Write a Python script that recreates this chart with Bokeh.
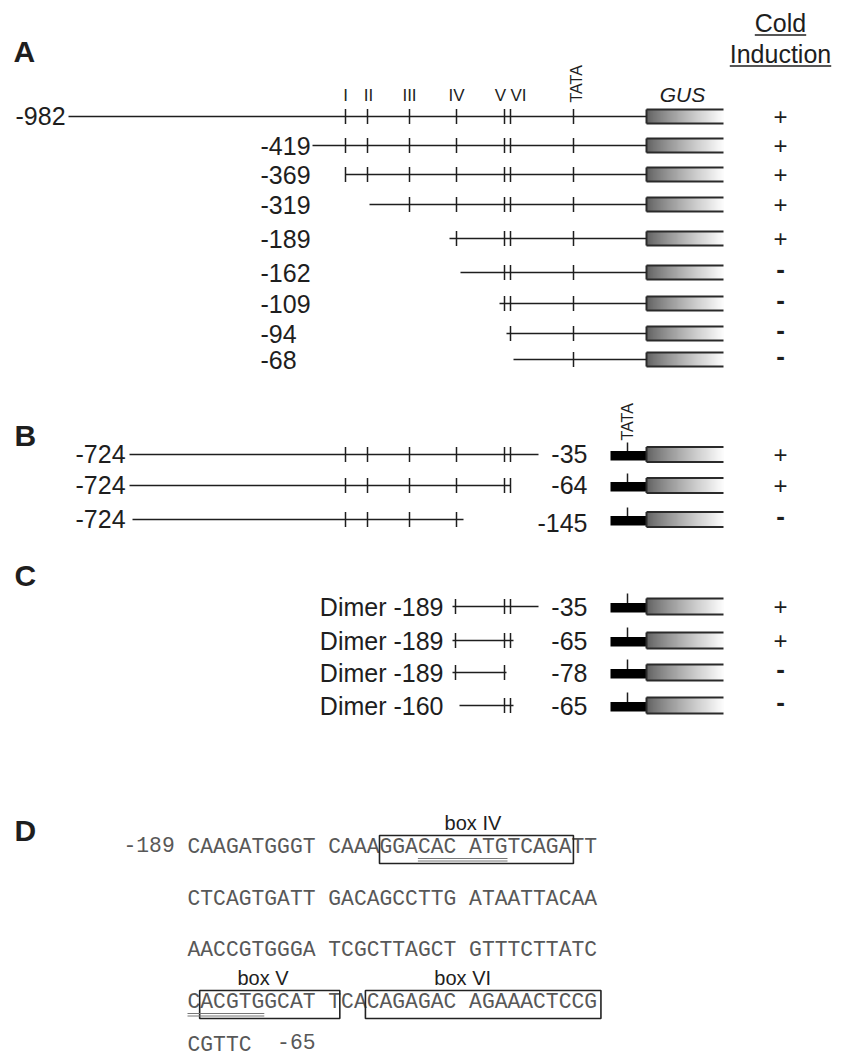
import numpy as np
from bokeh.plotting import figure
from bokeh.models import Range1d
from bokeh.core.properties import value
from bokeh.embed import file_html
from bokeh.resources import INLINE

# ---------------- data ----------------
# schematic promoter map (diagram units along the construct)
box_names = ["I", "II", "III", "IV", "V", "VI"]
box_x = [345, 367, 409, 456, 504, 510]
box_label_x = [345, 368, 409, 456, 500, 518]
tata_x = 573
gus_x = [646, 723]
min_tata_x = [610, 627]          # minimal promoter block start, TATA tick

# Panel A: 5' deletions
a_labels = ["-982", "-419", "-369", "-319", "-189", "-162", "-109", "-94", "-68"]
a_start = [68, 312, 345, 369, 449, 460, 499, 506, 513]
a_row_y = [116, 145, 174, 204, 238, 272, 303, 333, 359]
a_cold = ["+", "+", "+", "+", "+", "-", "-", "-", "-"]

# Panel B: fusions to minimal promoter
b_left = ["-724", "-724", "-724"]
b_right = ["-35", "-64", "-145"]
b_start = [129, 129, 132]
b_end = [538, 510, 463]
b_row_y = [454, 485, 519]
b_cold = ["+", "+", "-"]

# Panel C: dimers
c_left = ["Dimer -189", "Dimer -189", "Dimer -189", "Dimer -160"]
c_right = ["-35", "-65", "-78", "-65"]
c_start = [452, 452, 452, 459]
c_end = [538, 513, 506, 513]
c_ticks = [[455, 504, 510], [455, 504, 510], [455, 504], [504, 510]]
c_row_y = [606, 640, 672, 705]
c_cold = ["+", "+", "-", "-"]

# Panel D: sequence
seq_prefix = "-189"
seq_rows = ["CAAGATGGGT CAAAGGACAC ATGTCAGATT",
            "CTCAGTGATT GACAGCCTTG ATAATTACAA",
            "AACCGTGGGA TCGCTTAGCT GTTTCTTATC",
            "CACGTGGCAT TCACAGAGAC AGAAACTCCG",
            "CGTTC"]
seq_suffix = "-65"
seq_suffix_char = 7
seq_base_y = [855, 907, 958, 1010, 1053]
# (label, row, first char, last char edge, label char position)
seq_boxes = [("box IV", 0, 15.0, 30.15, 22.3),
             ("box V", 3, 0.95, 11.9, 5.9),
             ("box VI", 3, 13.9, 32.3, 21.5)]
seq_underlines = [(0, 18, 25), (3, 0, 6)]

# ---------------- figure ----------------
W, H = 845, 1060
p = figure(width=W, height=H, x_range=Range1d(0, W), y_range=Range1d(H, 0),
           x_axis_type=None, y_axis_type=None, output_backend="svg",
           toolbar_location=None, min_border=0)
p.grid.visible = False
p.outline_line_color = None
p.background_fill_color = "white"
p.border_fill_color = "white"

SANS = value("Liberation Sans")
MONO = value("Liberation Mono")
INK = "#1e1e1e"
BASE_FIX = 0.39   # svg text baseline correction (em)


def T(xs, ys, texts, size, align="left", style="normal", color=INK, font=SANS, angle=0.0):
    xs, ys = list(xs), list(ys)
    if angle:
        xs = [x - BASE_FIX * size for x in xs]
    else:
        ys = [y - BASE_FIX * size for y in ys]
    p.text(x=xs, y=ys, text=list(texts), text_font=font,
           text_font_size=f"{size:.2f}px", text_align=align, text_baseline="alphabetic",
           text_color=color, text_font_style=style, angle=angle)


seg = {"x0": [], "y0": [], "x1": [], "y1": []}


def S(x0, y0, x1, y1):
    seg["x0"].append(x0); seg["y0"].append(y0); seg["x1"].append(x1); seg["y1"].append(y1)


box_seg = {"x0": [], "y0": [], "x1": [], "y1": []}
grad = {"l": [], "r": [], "t": [], "b": [], "c": []}
NG = 77
edges = np.linspace(gus_x[0], gus_x[1], NG + 1)
shade = [int(round(88 + (252 - 88) * (i / (NG - 1)) ** 0.85)) for i in range(NG)]
shade_hex = ["#%02x%02x%02x" % (s, s, s) for s in shade]


def gus(y, h):
    top, bot = y - h / 2, y + h / 2
    for i in range(NG):
        grad["l"].append(edges[i]); grad["r"].append(edges[i + 1] + 0.4)
        grad["t"].append(top); grad["b"].append(bot); grad["c"].append(shade_hex[i])
    for (a, b, c, d) in [(gus_x[0], top, gus_x[1], top), (gus_x[0], bot, gus_x[1], bot),
                         (gus_x[0], top, gus_x[0], bot)]:
        box_seg["x0"].append(a); box_seg["y0"].append(b); box_seg["x1"].append(c); box_seg["y1"].append(d)


TK = 7.5
# ---- Panel A ----
T([13], [63], ["A"], 30, style="bold")
T([780], [32], ["Cold"], 25, align="center")
T([780], [63], ["Induction"], 25, align="center")
aw = {"C": .722, "o": .556, "l": .222, "d": .556, "I": .278, "n": .556, "u": .556,
      "c": .5, "t": .278, "i": .222}
for word, by in [("Cold", 32), ("Induction", 63)]:
    w = sum(aw[ch] for ch in word) * 25
    p.segment(x0=[780 - w / 2], y0=[by + 2.5], x1=[780 + w / 2], y1=[by + 2.5],
              line_color=INK, line_width=1.3)
T(box_label_x, [102] * 6, box_names, 17, align="center")
T([682], [102], ["GUS"], 21, align="center", style="italic")
T([582], [102], ["TATA"], 16, align="left", angle=np.pi / 2)

T([15], [a_row_y[0] + 9], [a_labels[0]], 25)
T([260] * 8, [y + 10 for y in a_row_y[1:]], a_labels[1:], 25)
for s, y in zip(a_start, a_row_y):
    S(s, y, gus_x[0], y)
    for bx in box_x:
        if bx >= s:
            S(bx, y - TK, bx, y + TK)
    S(tata_x, y - TK, tata_x, y + TK)
    gus(y, 14)

# ---- Panel B ----
T([14], [447], ["B"], 30, style="bold")
T([75] * 3, [y + 9 for y in b_row_y], b_left, 25)
b_nudge = [9, 9, 13]
T([587] * 3, [y + n for y, n in zip(b_row_y, b_nudge)], b_right, 25, align="right")
T([633], [440], ["TATA"], 16, align="left", angle=np.pi / 2)
blk = {"l": [], "r": [], "t": [], "b": []}
for s, e, y in zip(b_start, b_end, b_row_y):
    S(s, y, e, y)
    for bx in box_x:
        if bx <= e:
            S(bx, y - TK, bx, y + TK)
    blk["l"].append(min_tata_x[0]); blk["r"].append(gus_x[0])
    blk["t"].append(y - 3.5); blk["b"].append(y + 6)
    S(min_tata_x[1], y - 3.5, min_tata_x[1], y - 12)
    gus(y, 15)

# ---- Panel C ----
T([14], [587], ["C"], 30, style="bold")
T([443] * 4, [y + 10.5 for y in c_row_y], c_left, 25, align="right")
T([587] * 4, [y + 10.5 for y in c_row_y], c_right, 25, align="right")
for s, e, tks, y in zip(c_start, c_end, c_ticks, c_row_y):
    S(s, y, e, y)
    for bx in tks:
        S(bx, y - TK, bx, y + TK)
    blk["l"].append(min_tata_x[0]); blk["r"].append(gus_x[0])
    blk["t"].append(y - 3.5); blk["b"].append(y + 6)
    S(min_tata_x[1], y - 3.5, min_tata_x[1], y - 13)
    gus(y, 16)

# ---- cold induction marks ----
all_rows = a_row_y + b_row_y + c_row_y
all_cold = a_cold + b_cold + c_cold
plus_y = [y + 9 for y, c in zip(all_rows, all_cold) if c == "+"]
minus_y = [y + 6.5 for y, c in zip(all_rows, all_cold) if c == "-"]
T([780] * len(plus_y), plus_y, ["+"] * len(plus_y), 24, align="center")
T([780] * len(minus_y), minus_y, ["-"] * len(minus_y), 26, align="center", style="bold")

# draw graphics
p.quad(left=grad["l"], right=grad["r"], top=grad["t"], bottom=grad["b"],
       fill_color=grad["c"], line_color=None)
p.quad(left=blk["l"], right=blk["r"], top=blk["t"], bottom=blk["b"],
       fill_color="black", line_color=None)
p.segment(x0=box_seg["x0"], y0=box_seg["y0"], x1=box_seg["x1"], y1=box_seg["y1"],
          line_color="#2a2a2a", line_width=2)
p.segment(x0=seg["x0"], y0=seg["y0"], x1=seg["x1"], y1=seg["y1"],
          line_color=INK, line_width=1.5)

# ---- Panel D ----
T([14], [842], ["D"], 30, style="bold")
CW = 12.8
SX = 187
FS = CW / 0.6
SEQC = "#585858"
T([SX - 5 * CW], [seq_base_y[0] - 3], [seq_prefix], FS, font=MONO, color=SEQC)
T([SX] * len(seq_rows), seq_base_y, seq_rows, FS, font=MONO, color=SEQC)
T([SX + seq_suffix_char * CW], [seq_base_y[-1] - 4], [seq_suffix], FS, font=MONO, color=SEQC)
bl, br, bt, bb = [], [], [], []
for lab, r, c0, c1, lc in seq_boxes:
    by = seq_base_y[r]
    bl.append(SX + c0 * CW); br.append(SX + c1 * CW)
    bt.append(by - 20); bb.append(by + 8)
    T([SX + lc * CW], [by - 25], [lab], 20, align="center")
p.quad(left=bl, right=br, top=bt, bottom=bb, fill_color=None, line_color="#222222",
       line_width=1.6)
ux0, ux1, uy = [], [], []
for r, c0, c1 in seq_underlines:
    for off in (3, 5.5):
        ux0.append(SX + c0 * CW); ux1.append(SX + c1 * CW); uy.append(seq_base_y[r] + off)
p.segment(x0=ux0, y0=uy, x1=ux1, y1=uy, line_color="#777777", line_width=1)

open("out.html", "w").write(file_html(p, INLINE))
